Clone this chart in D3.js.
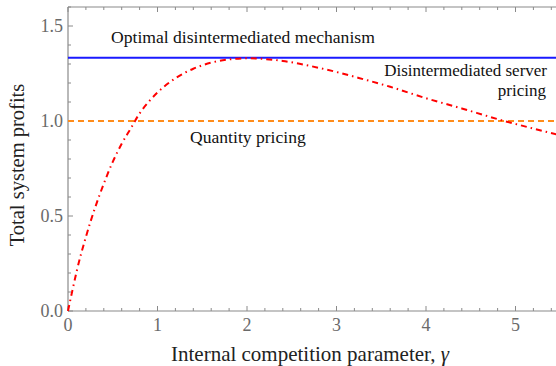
<!DOCTYPE html>
<html>
<head>
<meta charset="utf-8">
<script src="https://cdn.jsdelivr.net/npm/d3@7"></script>
<style>
  body { margin: 0; background: #fff; }
</style>
</head>
<body>
<script>
// Data
var gamma = [0, 0.05, 0.1, 0.2, 0.3, 0.4, 0.5, 0.6, 0.7, 0.8, 0.9, 1.0, 1.2, 1.4, 1.6, 1.8, 2.0, 2.2, 2.4, 2.6, 2.8, 3.0, 3.3, 3.6, 4.0, 4.4, 4.8, 5.2, 5.5];
var serverProfit = [0, 0.11, 0.215, 0.39, 0.54, 0.67, 0.785, 0.88, 0.96, 1.04, 1.10, 1.15, 1.225, 1.275, 1.307, 1.324, 1.330, 1.326, 1.316, 1.30, 1.28, 1.258, 1.22, 1.18, 1.12, 1.066, 1.01, 0.96, 0.925];
var optimalProfit = 1.333;
var quantityProfit = 1.0;
var xTicks = [0, 1, 2, 3, 4, 5];
var yTicks = [0.0, 0.5, 1.0, 1.5];

var width = 556, height = 366;
var margin = {top: 7.5, left: 68, bottom: 311};
var serif = "'Liberation Serif'";

var svg = d3.select("body").append("svg")
    .attr("width", width).attr("height", height);

var x = d3.scaleLinear().domain([0, 5.5]).range([margin.left, margin.left + 5.5 * 89.5]);
var y = d3.scaleLinear().domain([0, 1.6]).range([margin.bottom, margin.bottom - 1.6 * 190]);

var axisColor = "#8a8a8a";
var labelColor = "#6a6a6a";

// frame lines
svg.append("line").attr("x1", x(0)).attr("x2", width).attr("y1", y(1.6)).attr("y2", y(1.6))
    .attr("stroke", axisColor).attr("stroke-width", 1.2);
svg.append("line").attr("x1", x(0)).attr("x2", width).attr("y1", y(0)).attr("y2", y(0))
    .attr("stroke", axisColor).attr("stroke-width", 1.2);
svg.append("line").attr("x1", x(0)).attr("x2", x(0)).attr("y1", y(0)).attr("y2", y(1.6))
    .attr("stroke", axisColor).attr("stroke-width", 1.2);

// x ticks (bottom and top, pointing inward)
var xMinor = d3.range(0, 5.6, 0.2);
xMinor.forEach(function(v) {
    var major = Math.abs(v - Math.round(v)) < 1e-6;
    var len = major ? 5 : 3;
    svg.append("line").attr("x1", x(v)).attr("x2", x(v))
        .attr("y1", y(0)).attr("y2", y(0) - len)
        .attr("stroke", axisColor).attr("stroke-width", 1);
    svg.append("line").attr("x1", x(v)).attr("x2", x(v))
        .attr("y1", y(1.6)).attr("y2", y(1.6) + len)
        .attr("stroke", axisColor).attr("stroke-width", 1);
});
// y ticks
var yMinor = d3.range(0, 1.61, 0.1);
yMinor.forEach(function(v) {
    var major = Math.abs(v * 2 - Math.round(v * 2)) < 1e-6;
    var len = major ? 5 : 3;
    svg.append("line").attr("x1", x(0)).attr("x2", x(0) + len)
        .attr("y1", y(v)).attr("y2", y(v))
        .attr("stroke", axisColor).attr("stroke-width", 1);
});

svg.selectAll(".xlab").data(xTicks).enter().append("text")
    .attr("x", function(d) { return x(d); })
    .attr("y", 331)
    .attr("text-anchor", "middle")
    .style("font-family", serif)
    .attr("font-size", "18px")
    .attr("fill", labelColor)
    .text(function(d) { return d; });

svg.selectAll(".ylab").data(yTicks).enter().append("text")
    .attr("x", 63)
    .attr("y", function(d) { return y(d) + 6; })
    .attr("text-anchor", "end")
    .style("font-family", serif)
    .attr("font-size", "18px")
    .attr("fill", labelColor)
    .text(function(d) { return d.toFixed(1); });

// axis titles
var xt = svg.append("text")
    .attr("x", 310).attr("y", 361)
    .attr("text-anchor", "middle")
    .style("font-family", serif)
    .attr("font-size", "21px")
    .attr("fill", "#222");
xt.append("tspan").text("Internal competition parameter, ");
xt.append("tspan").attr("font-style", "italic").text("γ");

svg.append("text")
    .attr("transform", "translate(24," + 165 + ") rotate(-90)")
    .attr("text-anchor", "middle")
    .style("font-family", serif)
    .attr("font-size", "20.5px")
    .attr("fill", "#222")
    .text("Total system profits");

// series
svg.append("line")
    .attr("x1", x(0)).attr("x2", width)
    .attr("y1", y(quantityProfit)).attr("y2", y(quantityProfit))
    .attr("stroke", "#ff8c1a").attr("stroke-width", 2)
    .attr("stroke-dasharray", "6,4");

svg.append("line")
    .attr("x1", x(0)).attr("x2", width)
    .attr("y1", y(optimalProfit)).attr("y2", y(optimalProfit))
    .attr("stroke", "#1a1aff").attr("stroke-width", 2);

var line = d3.line()
    .x(function(d, i) { return x(gamma[i]); })
    .y(function(d) { return y(d); })
    .curve(d3.curveMonotoneX);

svg.append("path")
    .datum(serverProfit)
    .attr("d", line)
    .attr("fill", "none")
    .attr("stroke", "#ff0000")
    .attr("stroke-width", 2)
    .attr("stroke-dasharray", "6,4,1.5,4");

// labels
function label(txt, lx, ly, anchor, size) {
    svg.append("text")
        .attr("x", lx).attr("y", ly)
        .attr("text-anchor", anchor)
        .style("font-family", serif)
        .attr("font-size", (size || 17.6) + "px").attr("fill", "#111")
        .text(txt);
}
label("Optimal disintermediated mechanism", 111, 43, "start");
label("Disintermediated server", 547, 76, "end", 17);
label("pricing", 546, 95.5, "end", 17);
label("Quantity pricing", 190, 143, "start");
</script>
</body>
</html>
